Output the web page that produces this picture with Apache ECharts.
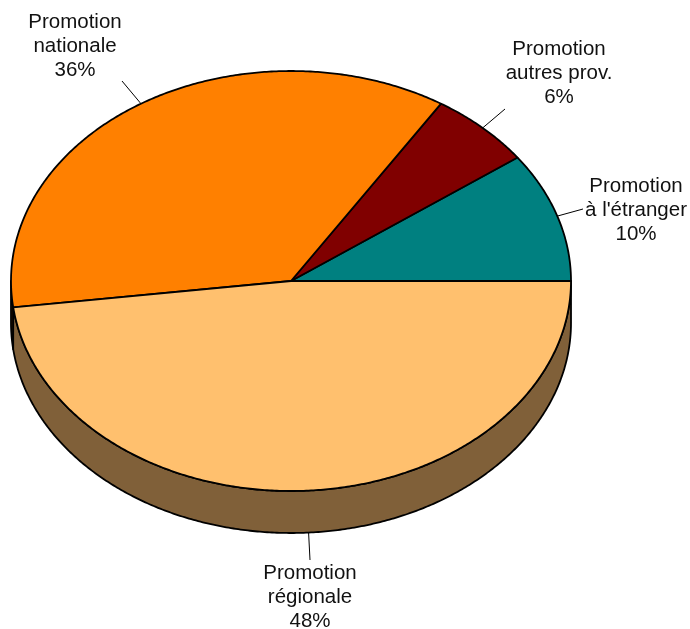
<!DOCTYPE html>
<html><head><meta charset="utf-8">
<script src="https://cdn.jsdelivr.net/npm/echarts@6/dist/echarts.min.js"></script>
<style>html,body{margin:0;padding:0;background:#fff}#c{width:690px;height:629px}</style>
</head><body><div id="c"></div>
<script>
// ---- data ----
const categories = ["Promotion\nà l'étranger", "Promotion\nautres prov.", "Promotion\nnationale", "Promotion\nrégionale"];
const values = [10, 6, 36, 48];
// ---- styles ----
const topColors = ['#008080', '#800000', '#FF8000', '#FFC06E'];
const sideColors = ['#004040', '#400000', '#804000', '#806039'];
// ---- layout (pixels) ----
const CX = 291, CY = 281, RX = 280, RY = 210, DEPTH = 42, START_ANGLE = 0;
const labelCenter = [[636, 210], [559, 73], [75, 46], [310, 597]];
const leaderEnd = [[583, 209], [505, 109], [122, 81], [310, 560]];

const total = values.reduce((a, b) => a + b, 0);
const cum = [];
values.reduce((acc, v, i) => { cum[i] = acc; return acc + v; }, 0);
function span(i) {
  const a0 = START_ANGLE + cum[i] / total * 360;
  const a1 = a0 + values[i] / total * 360;
  return [a0, a1];
}
function pt(deg, dz) {
  const r = deg * Math.PI / 180;
  return [CX + RX * Math.cos(r), CY - RY * Math.sin(r) + (dz || 0)];
}
function arcPts(a0, a1, dz) {
  const pts = [];
  const n = Math.max(2, Math.ceil(Math.abs(a1 - a0) / 0.5));
  for (let k = 0; k <= n; k++) pts.push(pt(a0 + (a1 - a0) * k / n, dz));
  return pts;
}
const data = values.map((v, i) => [i, v]);

function renderSide(params, api) {
  const i = params.dataIndex;
  const [a0, a1] = span(i);
  const s = Math.max(a0, 180), e = Math.min(a1, 360);
  if (s >= e) return { type: 'group', children: [] };
  const pts = arcPts(s, e, 0).concat(arcPts(e, s, DEPTH));
  return {
    type: 'polygon',
    shape: { points: pts },
    style: { fill: sideColors[i], stroke: '#000', lineWidth: 1.8, lineJoin: 'round' }
  };
}
function renderTop(params, api) {
  const i = params.dataIndex;
  const [a0, a1] = span(i);
  const pts = [[CX, CY]].concat(arcPts(a0, a1, 0));
  const mid = (a0 + a1) / 2;
  const midNorm = ((mid % 360) + 360) % 360;
  const start = pt(mid, (midNorm > 180 && midNorm < 360) ? DEPTH : 0);
  const pct = Math.round(api.value(1) / total * 100) + '%';
  return {
    type: 'group',
    children: [
      { type: 'polygon', shape: { points: pts },
        style: { fill: topColors[i], stroke: '#000', lineWidth: 1.8, lineJoin: 'round' } },
      { type: 'line', shape: { x1: start[0], y1: start[1], x2: leaderEnd[i][0], y2: leaderEnd[i][1] },
        style: { stroke: '#000', lineWidth: 1 } },
      { type: 'text', x: labelCenter[i][0], y: labelCenter[i][1],
        style: { text: categories[i] + '\n' + pct, fill: '#111', fontSize: 20.5,
          fontFamily: 'Liberation Sans, Arial, sans-serif', align: 'center',
          verticalAlign: 'middle', lineHeight: 24 } }
    ]
  };
}

const chart = echarts.init(document.getElementById('c'));
chart.setOption({
  animation: false,
  backgroundColor: '#fff',
  series: [
    { type: 'custom', coordinateSystem: 'none', data: data, renderItem: renderSide, z: 1 },
    { type: 'custom', coordinateSystem: 'none', data: data, renderItem: renderTop, z: 2 }
  ]
});
</script>
</body></html>
